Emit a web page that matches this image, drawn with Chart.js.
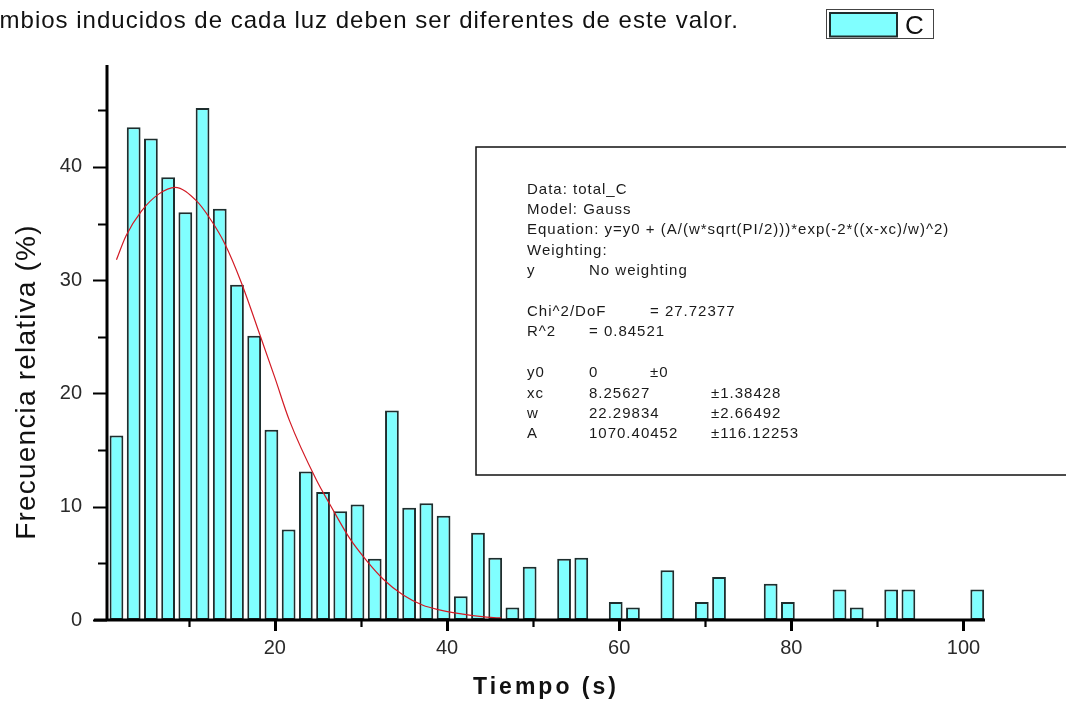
<!DOCTYPE html>
<html>
<head>
<meta charset="utf-8">
<script src="https://cdn.jsdelivr.net/npm/chart.js@4.4.1/dist/chart.umd.min.js"></script>
<style>
  html, body { margin: 0; padding: 0; background: #ffffff; overflow: hidden; }
  #wrap { position: relative; width: 1066px; height: 701px; }
  canvas { display: block; }
</style>
</head>
<body>
<div id="wrap"><canvas id="chart" width="1066" height="701"></canvas></div>
<script>
// Histogram bins (centre of each 2 s bin) and relative frequency in each bin
const binCenters = [
  1.6, 3.6, 5.6, 7.6, 9.6, 11.6, 13.6, 15.6, 17.6, 19.6,
  21.6, 23.6, 25.6, 27.6, 29.6, 31.6, 33.6, 35.6, 37.6, 39.6,
  41.6, 43.6, 45.6, 47.6, 49.6, 51.6, 53.6, 55.6, 57.6, 59.6,
  61.6, 63.6, 65.6, 67.6, 69.6, 71.6, 73.6, 75.6, 77.6, 79.6,
  81.6, 83.6, 85.6, 87.6, 89.6, 91.6, 93.6, 95.6, 97.6, 99.6,
  101.6
];
const frequency = [
  16.3, 43.5, 42.5, 39.1, 36.0, 45.2, 36.3, 29.6, 25.1, 16.8,
  8.0, 13.1, 11.3, 9.6, 10.2, 5.4, 18.5, 9.9, 10.3, 9.2,
  2.1, 7.7, 5.5, 1.1, 4.7, 0, 5.4, 5.5, 0, 1.6,
  1.1, 0, 4.4, 0, 1.6, 3.8, 0, 0, 3.2, 1.6,
  0, 0, 2.7, 1.1, 0, 2.7, 2.7, 0, 0, 0,
  2.7
];

// Gaussian fit curve, sampled along the time axis
const fitTime  = [1.6, 2.7, 4.5, 6.5, 8.4, 10.9, 12.5, 14.2, 16.1, 18.3, 20.0, 21.7, 24.8, 26.4, 28.7, 30.7, 32.6, 34.9, 37.2, 39.1, 40.7, 44.6, 46.3];
const fitValue = [31.8, 33.9, 36.1, 37.6, 38.2, 37.0, 35.4, 33.2, 29.8, 25.1, 21.4, 17.6, 12.4, 10.2, 7.2, 5.2, 3.6, 2.2, 1.3, 0.9, 0.65, 0.25, 0.18];

// Axis ticks
const xTickLabels = [20, 40, 60, 80, 100];
const xMinorTicks = [10, 30, 50, 70, 90];
const yTickLabels = [0, 10, 20, 30, 40];
const yMinorTicks = [5, 15, 25, 35, 45];

const seriesName = 'C';
const xTitle = 'Tiempo (s)';
const yTitle = 'Frecuencia relativa (%)';
const headerLine = 'cambios inducidos de cada luz deben ser diferentes de este valor.';

// Fit report: each row is a list of [tab column, text]
const fitReport = [
  [[0, 'Data: total_C']],
  [[0, 'Model: Gauss']],
  [[0, 'Equation: y=y0 + (A/(w*sqrt(PI/2)))*exp(-2*((x-xc)/w)^2)']],
  [[0, 'Weighting:']],
  [[0, 'y'], [1, 'No weighting']],
  [],
  [[0, 'Chi^2/DoF'], [2, '= 27.72377']],
  [[0, 'R^2'], [1, '= 0.84521']],
  [],
  [[0, 'y0'], [1, '0'], [2, '\u00b10']],
  [[0, 'xc'], [1, '8.25627'], [3, '\u00b11.38428']],
  [[0, 'w'], [1, '22.29834'], [3, '\u00b12.66492']],
  [[0, 'A'], [1, '1070.40452'], [3, '\u00b1116.12253']]
];

const FONT = '"Liberation Sans", Arial, sans-serif';
const BAR_FILL = '#80ffff';
const BAR_EDGE = '#1e2e2e';
const FIT_RED = '#d21a24';

// Axis lines, tick marks, titles, legend, header and the fit report
const decorations = {
  id: 'decorations',
  afterDatasetsDraw(chart) {
    const { ctx, chartArea: a, scales: { x, y } } = chart;
    ctx.save();
    ctx.strokeStyle = '#000';
    ctx.lineCap = 'butt';

    // axis lines
    ctx.lineWidth = 3;
    ctx.beginPath();
    ctx.moveTo(a.left - 13, a.bottom);
    ctx.lineTo(a.right, a.bottom);
    ctx.moveTo(a.left, a.top);
    ctx.lineTo(a.left, a.bottom + 1.5);
    ctx.stroke();

    // x tick marks
    ctx.lineWidth = 3;
    ctx.beginPath();
    xTickLabels.forEach(v => {
      const px = Math.round(x.getPixelForValue(v)) + 0.5;
      ctx.moveTo(px, a.bottom); ctx.lineTo(px, a.bottom + 11);
    });
    ctx.stroke();
    ctx.lineWidth = 2.2;
    ctx.beginPath();
    xMinorTicks.forEach(v => {
      const px = Math.round(x.getPixelForValue(v)) + 0.5;
      ctx.moveTo(px, a.bottom); ctx.lineTo(px, a.bottom + 7);
    });
    ctx.stroke();

    // y tick marks
    ctx.lineWidth = 2.2;
    ctx.beginPath();
    yTickLabels.forEach(v => {
      const py = Math.round(y.getPixelForValue(v)) + 0.5;
      ctx.moveTo(a.left, py); ctx.lineTo(a.left - 14, py);
    });
    yMinorTicks.forEach(v => {
      const py = Math.round(y.getPixelForValue(v)) + 0.5;
      ctx.moveTo(a.left, py); ctx.lineTo(a.left - 9, py);
    });
    ctx.stroke();

    // axis titles
    ctx.fillStyle = '#111';
    ctx.font = 'bold 23px ' + FONT;
    ctx.letterSpacing = '3px';
    ctx.textAlign = 'center';
    ctx.textBaseline = 'alphabetic';
    ctx.fillText(xTitle, 546, 694);

    ctx.save();
    ctx.translate(35, 382);
    ctx.rotate(-Math.PI / 2);
    ctx.font = '28px ' + FONT;
    ctx.letterSpacing = '1.2px';
    ctx.fillText(yTitle, 0, 0);
    ctx.restore();

    // header text, running off the left edge
    ctx.letterSpacing = '1px';
    ctx.font = '24px ' + FONT;
    ctx.textAlign = 'right';
    ctx.fillStyle = '#111';
    ctx.fillText(headerLine, 739, 28);

    // legend
    ctx.letterSpacing = '0px';
    ctx.lineWidth = 1;
    ctx.strokeStyle = '#444';
    ctx.fillStyle = '#fff';
    ctx.fillRect(826.5, 9.5, 107, 29);
    ctx.strokeRect(826.5, 9.5, 107, 29);
    ctx.fillStyle = BAR_FILL;
    ctx.strokeStyle = BAR_EDGE;
    ctx.lineWidth = 2;
    ctx.fillRect(830, 13, 67, 23.5);
    ctx.strokeRect(830, 13, 67, 23.5);
    ctx.fillStyle = '#111';
    ctx.font = '26px ' + FONT;
    ctx.textAlign = 'left';
    ctx.fillText(seriesName, 905, 34);

    // fit report box
    ctx.fillStyle = '#fff';
    ctx.fillRect(476, 147, 700, 328);
    ctx.strokeStyle = '#111';
    ctx.lineWidth = 1.5;
    ctx.strokeRect(476, 147, 700, 328);
    const tabs = [527, 589, 650, 711];
    ctx.fillStyle = '#1a1a1a';
    ctx.font = '15px ' + FONT;
    ctx.letterSpacing = '1px';
    ctx.textAlign = 'left';
    ctx.textBaseline = 'middle';
    fitReport.forEach((row, i) => {
      row.forEach(([col, text]) => ctx.fillText(text, tabs[col], 189.5 + i * 20.4));
    });
    ctx.restore();
  }
};

new Chart(document.getElementById('chart'), {
  type: 'bar',
  data: {
    datasets: [
      {
        type: 'line',
        label: 'Gauss fit',
        data: fitTime.map((t, i) => ({ x: t, y: fitValue[i] })),
        borderColor: FIT_RED,
        borderWidth: 1.2,
        pointRadius: 0,
        cubicInterpolationMode: 'monotone',
        fill: false,
        order: 0
      },
      {
        type: 'bar',
        label: seriesName,
        data: binCenters.map((t, i) => ({ x: t, y: frequency[i] })),
        backgroundColor: BAR_FILL,
        borderColor: BAR_EDGE,
        borderWidth: 2,
        borderSkipped: false,
        barPercentage: 0.8,
        categoryPercentage: 1.0,
        order: 1
      }
    ]
  },
  options: {
    responsive: false,
    animation: false,
    devicePixelRatio: 1,
    layout: { padding: { top: 65, right: 81, bottom: 0, left: 0 } },
    plugins: { legend: { display: false }, tooltip: { enabled: false }, title: { display: false } },
    scales: {
      x: {
        type: 'linear',
        offset: false,
        min: 0.5,
        max: 102.5,
        grid: { display: false, drawTicks: false, tickLength: 0 },
        border: { display: false },
        afterFit(scale) { scale.height = 81; },
        ticks: {
          stepSize: 20,
          includeBounds: false,
          autoSkip: false,
          maxRotation: 0,
          padding: 16,
          color: '#2a2a2a',
          font: { family: FONT, size: 20 },
          callback: v => (xTickLabels.includes(v) ? String(v) : '')
        }
      },
      y: {
        min: 0,
        max: 49,
        grid: { display: false, drawTicks: false, tickLength: 0 },
        border: { display: false },
        afterFit(scale) { scale.width = 107; },
        ticks: {
          stepSize: 10,
          includeBounds: false,
          autoSkip: false,
          padding: 25,
          color: '#2a2a2a',
          font: { family: FONT, size: 20 },
          callback: v => (yTickLabels.includes(v) ? String(v) : '')
        }
      }
    }
  },
  plugins: [decorations]
});
</script>
</body>
</html>
